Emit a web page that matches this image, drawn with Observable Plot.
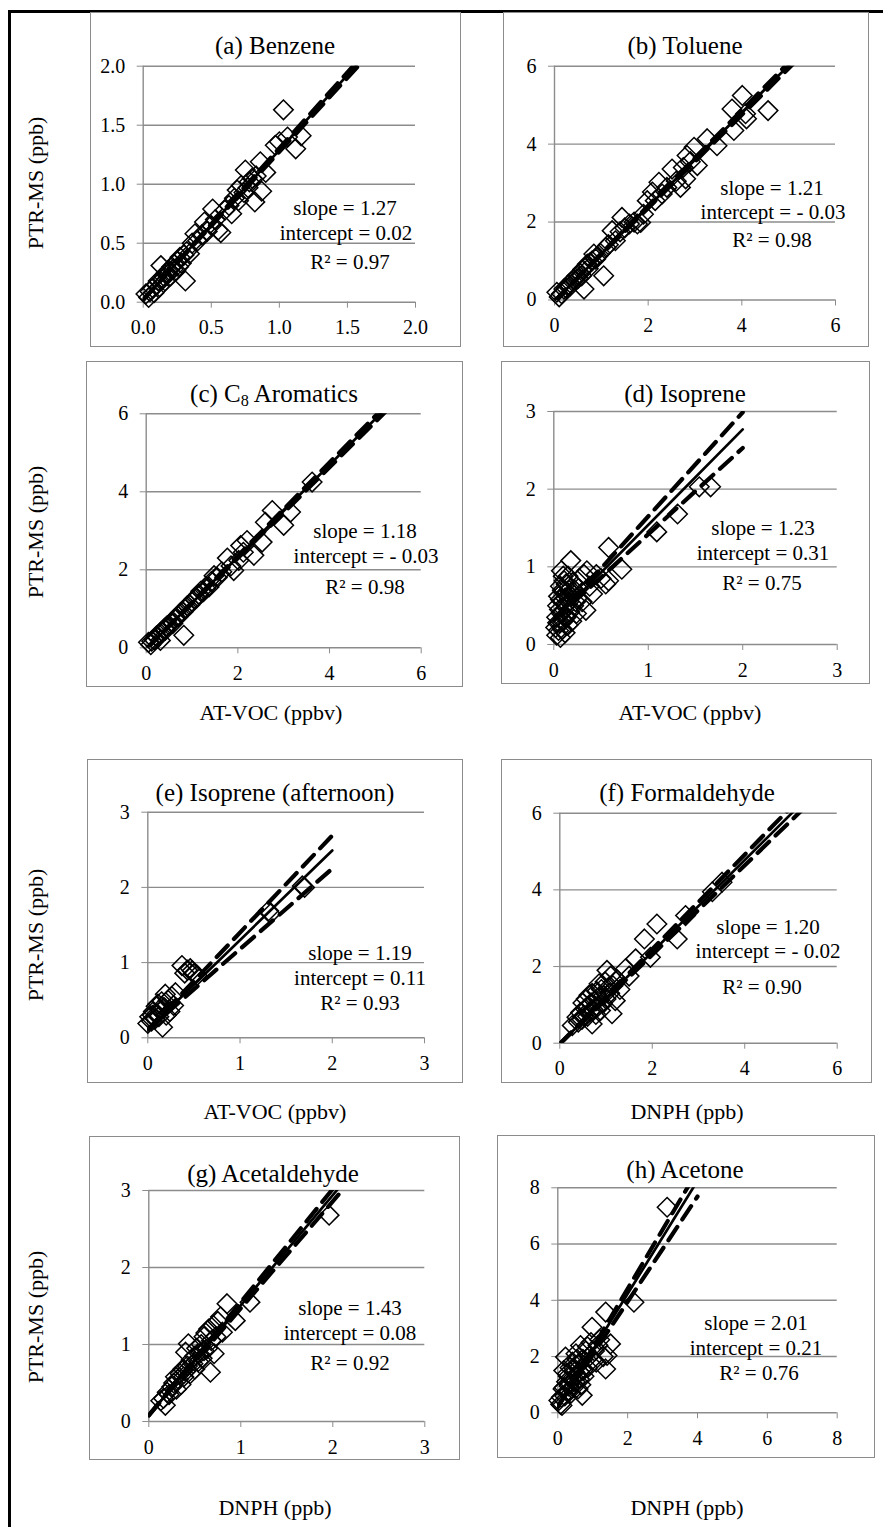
<!DOCTYPE html>
<html><head><meta charset="utf-8">
<script src="https://cdn.jsdelivr.net/npm/d3@7"></script>
<script src="https://cdn.jsdelivr.net/npm/@observablehq/plot@0.6"></script>
<style>
body{margin:0;background:#fff;}
#page{position:relative;width:883px;height:1527px;overflow:hidden;font-family:"Liberation Serif","Times New Roman",serif;color:#000;background:#fff;}
.frame{position:absolute;border:1.4px solid #8c8c8c;box-sizing:border-box;pointer-events:none;}
.panel{position:absolute;}
.t{position:absolute;white-space:nowrap;transform:translate(-50%,-50%);line-height:1;}
.title{font-size:25px;}
.stat{font-size:21px;}
.lab{font-size:22px;}
.rot{transform:translate(-50%,-50%) rotate(-90deg);}
sub{font-size:0.65em;vertical-align:-0.25em;line-height:0;}
</style></head>
<body><div id="page"></div>
<script>
// ---------------- data ----------------
const titles = ["(a) Benzene","(b) Toluene","(c) C<sub>8</sub> Aromatics","(d) Isoprene","(e) Isoprene (afternoon)","(f) Formaldehyde","(g) Acetaldehyde","(h) Acetone"];
const slopes = [1.27,1.21,1.18,1.23,1.19,1.20,1.43,2.01];
const intercepts = [0.02,-0.03,-0.03,0.31,0.11,-0.02,0.08,0.21];
const r2 = ["0.97","0.98","0.98","0.75","0.93","0.90","0.92","0.76"];
const upperSlopes = [1.285,1.225,1.195,1.34,1.29,1.235,1.47,2.10];
const lowerSlopes = [1.255,1.195,1.165,1.11,1.07,1.165,1.39,1.87];
const fitEnds = [2,6,6,2,2,6,3,4];
const axisMax = [2,6,6,3,3,6,3,8];
const tickSets = [[0,0.5,1,1.5,2],[0,2,4,6],[0,2,4,6],[0,1,2,3],[0,1,2,3],[0,2,4,6],[0,1,2,3],[0,2,4,6,8]];
const tickFormats = [".1f","d","d","d","d","d","d","d"];
const yLabel = "PTR-MS (ppb)";
const xLabels = ["AT-VOC (ppbv)","AT-VOC (ppbv)","AT-VOC (ppbv)","DNPH (ppb)","DNPH (ppb)","DNPH (ppb)"];

const benzene = [[0.02,0.07],[0.04,0.04],[0.05,0.09],[0.07,0.12],[0.08,0.08],[0.10,0.15],[0.11,0.18],[0.12,0.13],[0.13,0.31],[0.14,0.19],[0.15,0.22],[0.16,0.18],[0.17,0.25],[0.18,0.24],[0.19,0.27],[0.20,0.22],[0.21,0.30],[0.22,0.28],[0.23,0.32],[0.24,0.27],[0.25,0.35],[0.26,0.30],[0.27,0.38],[0.28,0.33],[0.30,0.40],[0.31,0.18],[0.32,0.43],[0.34,0.41],[0.36,0.50],[0.38,0.58],[0.40,0.52],[0.43,0.57],[0.45,0.68],[0.47,0.60],[0.50,0.65],[0.51,0.79],[0.53,0.70],[0.55,0.61],[0.57,0.59],[0.60,0.78],[0.63,0.82],[0.65,0.75],[0.67,0.88],[0.69,0.95],[0.70,0.86],[0.72,0.99],[0.74,0.93],[0.75,1.12],[0.77,0.97],[0.78,1.02],[0.80,1.05],[0.82,0.85],[0.83,1.07],[0.86,1.19],[0.87,0.94],[0.90,1.10],[0.97,1.33],[1.00,1.36],[1.03,1.63],[1.06,1.40],[1.12,1.30],[1.16,1.41]];
const toluene = [[0.05,0.20],[0.10,0.08],[0.15,0.16],[0.20,0.28],[0.25,0.30],[0.30,0.40],[0.33,0.35],[0.38,0.48],[0.40,0.52],[0.45,0.50],[0.48,0.62],[0.50,0.55],[0.55,0.68],[0.58,0.62],[0.60,0.78],[0.63,0.28],[0.65,0.82],[0.70,0.92],[0.72,0.80],[0.75,0.95],[0.80,1.00],[0.84,1.18],[0.88,1.05],[0.92,1.12],[0.98,1.20],[1.05,0.62],[1.10,1.35],[1.15,1.42],[1.23,1.78],[1.30,1.52],[1.40,1.75],[1.44,2.12],[1.50,1.85],[1.60,1.95],[1.70,2.00],[1.77,1.95],[1.84,1.99],[1.90,2.20],[1.98,2.55],[2.09,2.77],[2.15,2.55],[2.23,3.02],[2.30,2.72],[2.40,2.89],[2.51,3.36],[2.60,3.05],[2.69,2.89],[2.75,3.40],[2.80,3.11],[2.83,3.71],[2.90,3.55],[2.98,3.92],[3.05,3.45],[3.26,4.14],[3.47,3.96],[3.79,4.90],[3.83,4.35],[4.01,5.25],[4.08,4.78],[4.10,4.65],[4.56,4.86]];
const c8Aromatics = [[0.05,0.14],[0.10,0.08],[0.12,0.17],[0.18,0.20],[0.22,0.30],[0.25,0.26],[0.30,0.38],[0.31,0.19],[0.35,0.42],[0.40,0.50],[0.42,0.45],[0.45,0.56],[0.50,0.58],[0.55,0.66],[0.58,0.62],[0.62,0.74],[0.65,0.78],[0.70,0.80],[0.75,0.90],[0.80,0.92],[0.82,0.32],[0.85,1.00],[0.90,1.08],[0.95,1.10],[1.00,1.18],[1.05,1.25],[1.10,1.28],[1.15,1.37],[1.19,1.45],[1.25,1.44],[1.30,1.52],[1.37,1.56],[1.42,1.70],[1.48,1.85],[1.55,1.80],[1.65,1.95],[1.77,2.30],[1.85,2.10],[1.91,1.98],[2.02,2.24],[2.06,2.62],[2.12,2.45],[2.20,2.75],[2.35,2.37],[2.53,2.71],[2.60,3.22],[2.75,3.52],[3.00,3.14],[3.15,3.48],[3.62,4.25]];
const isoprene = [[0.02,0.22],[0.03,0.35],[0.03,0.12],[0.04,0.50],[0.04,0.28],[0.05,0.18],[0.05,0.62],[0.06,0.28],[0.06,0.45],[0.07,0.09],[0.07,0.75],[0.07,0.58],[0.08,0.40],[0.08,0.95],[0.09,0.55],[0.09,0.20],[0.09,0.70],[0.10,0.68],[0.10,0.30],[0.10,0.88],[0.11,0.82],[0.11,0.45],[0.12,0.15],[0.12,0.60],[0.12,0.38],[0.13,0.78],[0.13,0.35],[0.14,0.52],[0.14,0.68],[0.15,0.88],[0.15,0.25],[0.16,0.70],[0.16,0.55],[0.17,0.42],[0.18,1.08],[0.18,0.62],[0.19,0.30],[0.20,0.80],[0.20,0.65],[0.21,0.50],[0.22,0.70],[0.23,0.55],[0.24,0.40],[0.25,0.60],[0.26,0.72],[0.27,0.85],[0.30,0.55],[0.32,0.90],[0.34,0.44],[0.35,0.95],[0.38,0.75],[0.41,0.65],[0.45,0.90],[0.50,0.85],[0.55,0.78],[0.58,0.82],[0.58,1.25],[0.72,0.97],[1.09,1.45],[1.31,1.68],[1.54,2.03],[1.66,2.03]];
const isopreneAfternoon = [[0.00,0.19],[0.02,0.28],[0.04,0.22],[0.05,0.30],[0.06,0.35],[0.08,0.25],[0.09,0.42],[0.10,0.32],[0.11,0.45],[0.12,0.28],[0.13,0.38],[0.14,0.36],[0.15,0.48],[0.16,0.14],[0.18,0.40],[0.19,0.58],[0.20,0.30],[0.22,0.50],[0.24,0.35],[0.26,0.55],[0.28,0.43],[0.30,0.60],[0.37,0.96],[0.40,0.86],[0.43,0.90],[0.46,0.92],[0.48,0.89],[0.50,0.85],[0.535,0.83],[1.31,1.69],[1.33,1.65],[1.675,2.02],[1.70,2.00]];
const formaldehyde = [[0.27,0.46],[0.37,0.68],[0.40,0.55],[0.45,0.80],[0.48,0.62],[0.50,1.05],[0.52,0.72],[0.55,0.90],[0.57,1.15],[0.60,0.70],[0.62,0.95],[0.63,1.25],[0.65,0.82],[0.68,1.05],[0.70,0.50],[0.70,1.30],[0.72,0.88],[0.75,1.10],[0.78,0.75],[0.80,1.35],[0.82,0.95],[0.85,1.20],[0.85,1.55],[0.88,0.85],[0.90,1.40],[0.92,1.05],[0.95,1.25],[0.98,1.60],[1.00,1.15],[1.02,1.90],[1.05,1.45],[1.08,1.30],[1.10,1.75],[1.13,0.77],[1.15,1.50],[1.20,1.11],[1.25,1.65],[1.30,1.40],[1.42,1.94],[1.50,1.75],[1.64,2.20],[1.83,2.72],[1.96,2.24],[2.10,3.11],[2.54,2.72],[2.72,3.33],[3.30,3.95],[3.51,4.20]];
const acetaldehyde = [[0.13,0.27],[0.16,0.30],[0.18,0.21],[0.20,0.38],[0.22,0.35],[0.25,0.45],[0.27,0.50],[0.29,0.58],[0.30,0.42],[0.32,0.55],[0.34,0.62],[0.35,0.48],[0.37,0.68],[0.38,0.58],[0.40,0.90],[0.40,0.65],[0.42,0.72],[0.43,1.01],[0.45,0.62],[0.46,0.80],[0.48,0.75],[0.50,0.85],[0.50,0.68],[0.52,0.95],[0.54,0.78],[0.55,0.88],[0.57,1.00],[0.58,0.82],[0.60,1.10],[0.60,0.92],[0.62,1.15],[0.64,0.95],[0.65,1.20],[0.67,0.64],[0.68,1.05],[0.70,1.25],[0.71,0.88],[0.73,1.10],[0.75,1.30],[0.78,1.36],[0.80,1.16],[0.85,1.53],[0.94,1.31],[1.10,1.55],[1.96,2.68]];
const acetone = [[0.03,0.44],[0.08,0.30],[0.10,0.55],[0.12,0.26],[0.15,0.85],[0.17,1.50],[0.18,0.90],[0.20,0.60],[0.22,1.98],[0.25,1.10],[0.28,0.75],[0.28,1.40],[0.30,1.30],[0.32,0.95],[0.35,1.60],[0.35,1.05],[0.38,0.70],[0.40,1.20],[0.42,1.80],[0.45,0.90],[0.45,1.60],[0.48,1.45],[0.50,1.10],[0.52,2.10],[0.55,1.35],[0.55,1.90],[0.58,0.85],[0.60,1.70],[0.62,1.20],[0.62,1.45],[0.65,2.39],[0.66,1.00],[0.68,1.55],[0.70,0.62],[0.72,1.90],[0.72,1.50],[0.75,1.30],[0.80,2.20],[0.85,1.60],[0.85,2.35],[0.90,2.00],[0.95,2.50],[0.98,3.04],[1.00,1.90],[1.05,2.20],[1.10,1.80],[1.15,2.40],[1.20,2.60],[1.30,2.00],[1.37,3.58],[1.37,1.56],[1.41,2.04],[1.51,2.45],[2.18,3.93],[3.13,7.31]];
const seriesData = [benzene,toluene,c8Aromatics,isoprene,isopreneAfternoon,formaldehyde,acetaldehyde,acetone];

// ---------------- layout (pixels) ----------------
// box: [left, top, right, bottom]; plot: [x0px, xMaxPx, yMaxPx, y0px]
const layout = [
 {box:[90,12,461,347],  plot:[142.7,415,65.7,301.7],   title:[275,45],   stats:[[345,208],[346,233],[350,262]]},
 {box:[503,12,869,347], plot:[554,835,65.7,299.5],     title:[685,45],   stats:[[772,188],[773,212],[772,240]]},
 {box:[86,361,463,687], plot:[145.7,420.7,413.3,647.3],title:[274,393],  stats:[[365,531],[366,556],[365,587]]},
 {box:[501,361,870,684],plot:[553.3,836.7,411,644],    title:[685,393],  stats:[[763,528],[763,553],[762,583]]},
 {box:[87,759,463,1083],plot:[147.3,424,811.7,1037.3], title:[275,792],  stats:[[360,953],[360,978],[360,1003]]},
 {box:[501,759,872,1083],plot:[559.3,836.7,812.7,1042.7],title:[687,792],stats:[[768,927],[768,951],[762,987]]},
 {box:[89,1136,460,1460],plot:[148.3,424.3,1190,1421], title:[273,1173], stats:[[350,1308],[350,1333],[350,1363]]},
 {box:[497,1135,875,1458],plot:[557.3,836.7,1187.3,1412.3],title:[685,1169],stats:[[756,1323],[756,1348],[759,1373]]}
];
const yLabelPos = [[36,183],[36,532],[36,935],[36,1317]];
const xLabelPos = [[271,713],[690,713],[275,1112],[687,1112],[275,1508],[687,1508]];

const page = document.getElementById("page");
const GRAY = "#8c8c8c";
const FONT = "'Liberation Serif','Times New Roman',serif";

function addText(html, x, y, cls) {
  const d = document.createElement("div");
  d.className = "t " + cls;
  d.style.left = x + "px"; d.style.top = y + "px";
  d.innerHTML = html;
  page.appendChild(d);
}

// page border lines
const topLine = document.createElement("div");
Object.assign(topLine.style,{position:"absolute",left:"8px",top:"9.5px",width:"880px",height:"3px",background:"#000"});
page.appendChild(topLine);
const leftLine = document.createElement("div");
Object.assign(leftLine.style,{position:"absolute",left:"7.5px",top:"9.5px",width:"3px",height:"1520px",background:"#000"});
page.appendChild(leftLine);

seriesData.forEach((pts, i) => {
  const L = layout[i];
  const [bl, bt, br, bb] = L.box;
  const [px0, px1, py1, py0] = L.plot;
  const W = br - bl, H = bb - bt;
  const m = slopes[i], b = intercepts[i], xe = fitEnds[i];
  const fit = [[0, b], [xe, b + m * xe]];
  const upper = [[0, b], [xe, b + upperSlopes[i] * xe]];
  const lower = [[0, b], [xe, b + lowerSlopes[i] * xe]];
  const ticks = tickSets[i];
  const fmt = d3.format(tickFormats[i]);
  const chart = Plot.plot({
    width: W, height: H,
    marginLeft: px0 - bl, marginRight: br - px1,
    marginTop: py1 - bt, marginBottom: bb - py0,
    x: {domain: [0, axisMax[i]]},
    y: {domain: [0, axisMax[i]]},
    style: {fontFamily: FONT, fontSize: "20px", color: "#000", background: "none", overflow: "visible"},
    marks: [
      Plot.ruleY(ticks.filter(t => t > 0), {stroke: GRAY, strokeWidth: 1.4}),
      Plot.ruleX([0], {stroke: GRAY, strokeWidth: 1.4}),
      Plot.ruleY([0], {stroke: GRAY, strokeWidth: 1.4}),
      Plot.axisX({ticks, tickFormat: fmt, tickSize: 6, tickPadding: 12, stroke: GRAY, fill: "#000", label: null}),
      Plot.axisY({ticks, tickFormat: fmt, tickSize: 6, tickPadding: 12, stroke: GRAY, fill: "#000", label: null}),
      Plot.dot(pts, {x: d => d[0], y: d => d[1], symbol: "diamond2", r: 8.8, stroke: "#000", strokeWidth: 1.5, fill: "none"}),
      Plot.line(upper, {x: d => d[0], y: d => d[1], stroke: "#000", strokeWidth: 4.2, strokeDasharray: "16,9", clip: true}),
      Plot.line(lower, {x: d => d[0], y: d => d[1], stroke: "#000", strokeWidth: 4.2, strokeDasharray: "16,9", clip: true}),
      Plot.line(fit, {x: d => d[0], y: d => d[1], stroke: "#000", strokeWidth: 2.7, clip: true})
    ]
  });
  chart.classList.add("panel");
  chart.style.left = bl + "px"; chart.style.top = bt + "px";
  page.appendChild(chart);
  const fr = document.createElement("div");
  fr.className = "frame";
  Object.assign(fr.style, {left: bl + "px", top: bt + "px", width: W + "px", height: H + "px"});
  page.appendChild(fr);
  addText(titles[i], L.title[0], L.title[1], "title");
  const ic = b < 0 ? "- " + d3.format(".2f")(-b) : d3.format(".2f")(b);
  const lines = ["slope = " + d3.format(".2f")(m), "intercept = " + ic, "R² = " + r2[i]];
  lines.forEach((s, k) => addText(s, L.stats[k][0], L.stats[k][1], "stat"));
});

yLabelPos.forEach(p => addText(yLabel, p[0], p[1], "lab rot"));
xLabels.forEach((s, k) => addText(s, xLabelPos[k][0], xLabelPos[k][1], "lab"));
</script></body></html>
